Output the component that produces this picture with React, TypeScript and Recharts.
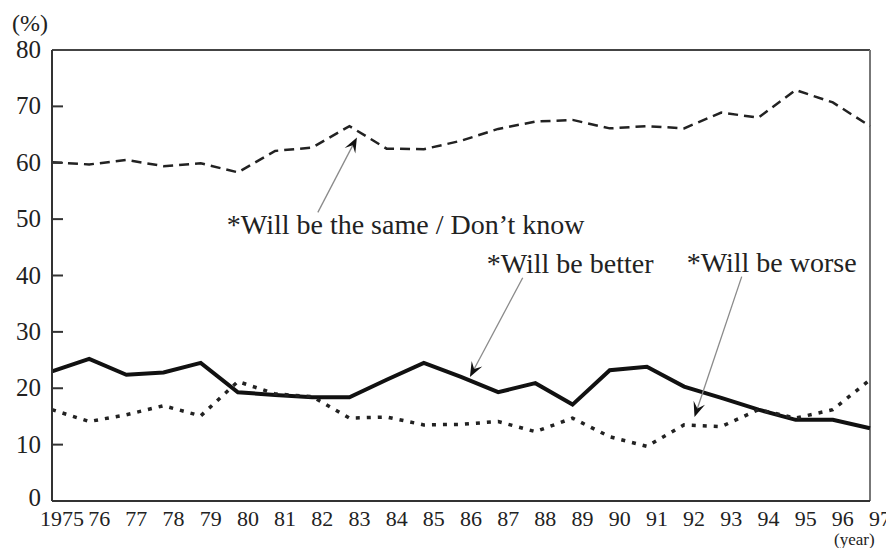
import { LineChart, Line, XAxis, YAxis, ReferenceLine } from 'recharts';

const years = [
  1975, 1976, 1977, 1978, 1979, 1980, 1981, 1982, 1983, 1984, 1985, 1986,
  1987, 1988, 1989, 1990, 1991, 1992, 1993, 1994, 1995, 1996, 1997,
];
const yearLabels = [
  '1975', '76', '77', '78', '79', '80', '81', '82', '83', '84', '85', '86',
  '87', '88', '89', '90', '91', '92', '93', '94', '95', '96', '97',
];
const sameOrDontKnow = [
  60.1, 59.7, 60.5, 59.4, 59.9, 58.3, 62.1, 62.7, 66.5, 62.5, 62.4, 63.9,
  66.0, 67.3, 67.6, 66.1, 66.5, 66.1, 68.9, 68.0, 72.9, 70.7, 66.5,
];
const better = [
  23.0, 25.2, 22.4, 22.8, 24.5, 19.3, 18.8, 18.4, 18.4, 21.5, 24.5, 22.0,
  19.3, 20.9, 17.1, 23.2, 23.8, 20.3, 18.3, 16.2, 14.4, 14.4, 12.9,
];
const worse = [
  16.2, 14.1, 15.3, 16.9, 15.1, 21.2, 19.0, 18.5, 14.7, 14.9, 13.5, 13.6,
  14.1, 12.3, 14.7, 11.4, 9.7, 13.5, 13.2, 16.2, 14.7, 16.2, 21.5,
];
const yTicks = [0, 10, 20, 30, 40, 50, 60, 70, 80];

const data = years.map((year, i) => ({
  year,
  same: sameOrDontKnow[i],
  better: better[i],
  worse: worse[i],
}));

const FONT = '"Liberation Serif", "DejaVu Serif", serif';

const XTick = (props: any) => {
  const { x, y, payload } = props;
  const idx = years.indexOf(payload.value);
  return (
    <text x={x + 10} y={y + 25} textAnchor="middle" fontFamily={FONT} fontSize={22} fill="#222">
      {yearLabels[idx]}
    </text>
  );
};

const YTick = (props: any) => {
  const { x, y, payload } = props;
  const v = payload.value;
  return (
    <g>
      {v !== 0 && v !== 80 && <line x1={x} y1={y} x2={x + 11} y2={y} stroke="#333" strokeWidth={2} />}
      <text x={x - 11} y={v === 0 ? y + 5 : y + 8} textAnchor="end" fontFamily={FONT} fontSize={25} fill="#222">
        {v}
      </text>
    </g>
  );
};

// arrow with its caption; caption placed relative to the arrow's tail
const arrowShape = (label: string, dx: number, dy: number) => (props: any) => {
  const { x1, y1, x2, y2 } = props;
  const ang = Math.atan2(y2 - y1, x2 - x1);
  const len = 15;
  const half = 6;
  const bx = x2 - len * Math.cos(ang);
  const by = y2 - len * Math.sin(ang);
  const nx = -Math.sin(ang);
  const ny = Math.cos(ang);
  const notchX = x2 - len * 0.6 * Math.cos(ang);
  const notchY = y2 - len * 0.6 * Math.sin(ang);
  return (
    <g>
      <line x1={x1} y1={y1} x2={notchX} y2={notchY} stroke="#8a8a8a" strokeWidth={1.3} />
      <polygon
        points={`${x2},${y2} ${bx + nx * half},${by + ny * half} ${notchX},${notchY} ${bx - nx * half},${by - ny * half}`}
        fill="#111"
      />
      <text x={x1 + dx} y={y1 + dy} fontFamily={FONT} fontSize={28} fill="#222">
        {label}
      </text>
    </g>
  );
};

export default function App() {
  return (
    <div style={{ position: 'absolute', left: 0, top: 0, width: 886, height: 548, background: '#fff' }}>
      <LineChart width={886} height={548} data={data} margin={{ top: 50, right: 16, bottom: 0, left: 0 }}>
        <XAxis
          dataKey="year"
          type="number"
          domain={[1975, 1997]}
          ticks={years}
          interval={0}
          height={47}
          tickSize={0}
          tickMargin={0}
          tickLine={false}
          axisLine={{ stroke: '#333', strokeWidth: 2 }}
          tick={<XTick />}
        />
        <YAxis
          type="number"
          domain={[0, 80]}
          ticks={yTicks}
          interval={0}
          width={52}
          tickSize={0}
          tickMargin={0}
          tickLine={false}
          axisLine={{ stroke: '#333', strokeWidth: 2 }}
          tick={<YTick />}
        />
        {/* frame: top and right edges */}
        <ReferenceLine y={80} stroke="#444" strokeWidth={2} />
        <ReferenceLine x={1997} stroke="#777" strokeWidth={2} />
        <Line
          dataKey="same"
          stroke="#222"
          strokeWidth={2.5}
          strokeDasharray="10 6"
          dot={false}
          isAnimationActive={false}
        />
        <Line
          dataKey="better"
          stroke="#111"
          strokeWidth={4}
          dot={false}
          isAnimationActive={false}
        />
        <Line
          dataKey="worse"
          stroke="#222"
          strokeWidth={3.5}
          strokeDasharray="4 7"
          dot={false}
          isAnimationActive={false}
        />
        <ReferenceLine
          segment={[{ x: 1982.15, y: 51.2 }, { x: 1983.2, y: 64.5 }]}
          shape={arrowShape('*Will be the same / Don\u2019t know', -91, 22)}
        />
        <ReferenceLine
          segment={[{ x: 1987.66, y: 39.6 }, { x: 1986.24, y: 22.0 }]}
          shape={arrowShape('*Will be better', -36, -5)}
        />
        <ReferenceLine
          segment={[{ x: 1993.55, y: 39.8 }, { x: 1992.28, y: 14.9 }]}
          shape={arrowShape('*Will be worse', -55, -5)}
        />
      </LineChart>
      <div style={{ position: 'absolute', left: 12, top: 11, fontFamily: FONT, fontSize: 24, color: '#222', lineHeight: 1 }}>
        (%)
      </div>
      <div style={{ position: 'absolute', left: 834, top: 531, fontFamily: FONT, fontSize: 17, color: '#222', lineHeight: 1 }}>
        (year)
      </div>
    </div>
  );
}
